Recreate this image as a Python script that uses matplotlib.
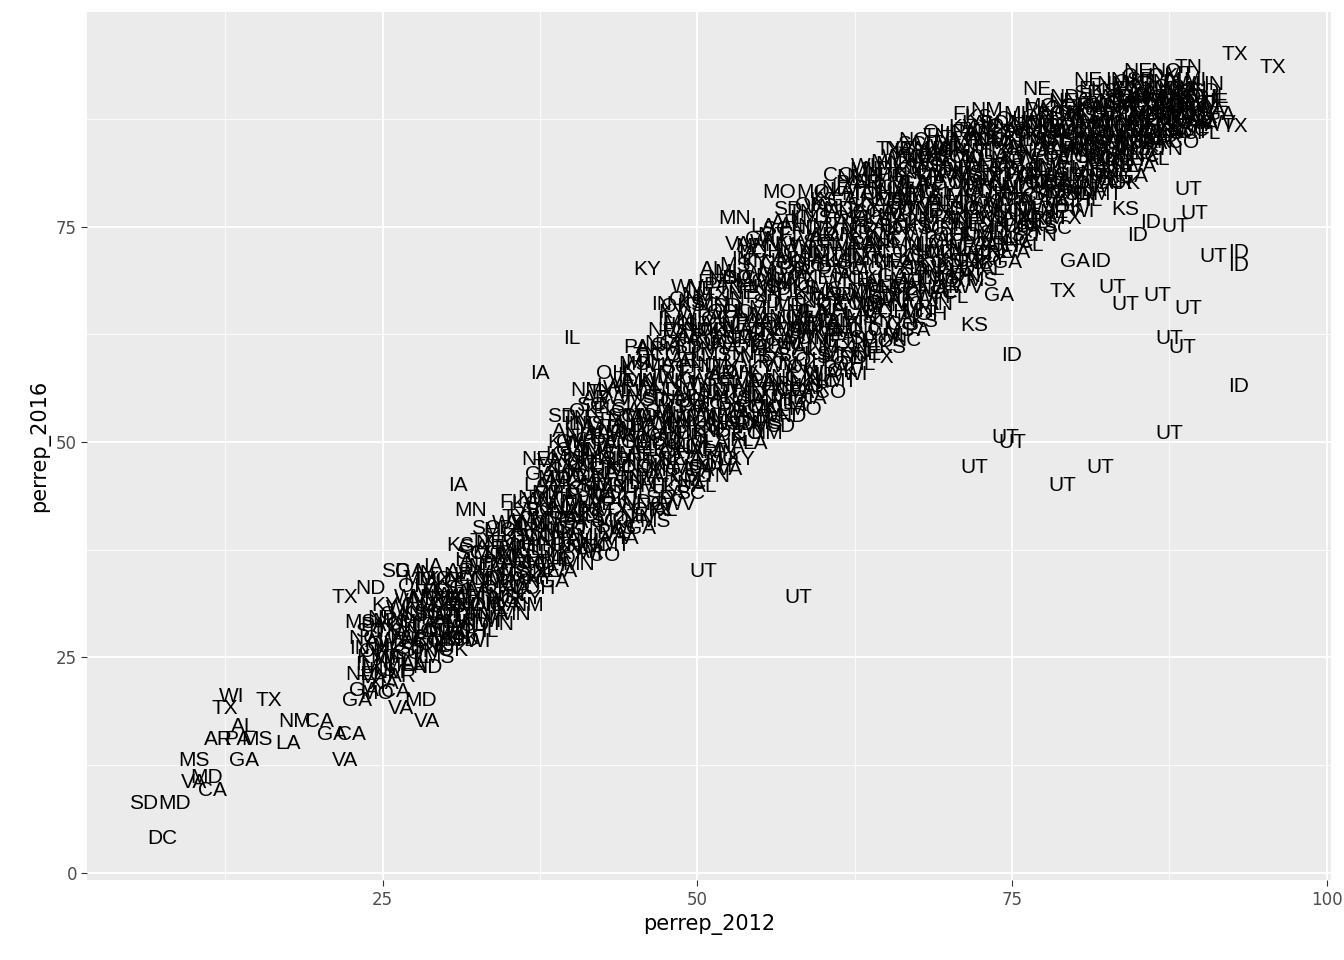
import numpy as np
import matplotlib.pyplot as plt

# outliers / sparse labels
out_lab = ['TX','TX','TX','UT','UT','ID','ID','UT','UT','ID','UT','UT','UT','UT','UT','ID',
           'UT','UT','UT','UT','UT','UT','UT','UT','ID','UT','ID','TX','KS','KS','GA','GA','ID',
           'DC','SD','MD','CA','VA','MD','MS','GA','AR','PA','MS','LA','VA','CA','GA','AL','NM',
           'CA','TX','WI','TX','VA','VA','MD','CA','GA','SD','ND','TX','NM','IA','VA','ID',
           'KY','IA','IL','MO','NE','OH','MN','NE','NE','NE','OK','IA','MN','KS','KS','TX','IL',
           'ID','CO','TX','NM','IL','WI','OH','MS']
out_x = [92.7,95.7,92.7,89.0,89.5,86.0,85.0,88.0,91.0,93.0,83.0,86.5,89.0,84.0,87.5,93.0,
         88.5,87.5,74.5,75.0,72.0,82.0,79.0,50.5,93.0,58.0,75.0,79.0,84.0,72.0,80.0,74.0,82.0,
         7.5,6.0,8.5,11.5,10.0,11.0,10.0,14.0,12.0,13.5,15.0,17.5,22.0,22.5,21.0,14.0,18.0,
         20.0,12.5,13.0,16.0,28.5,26.5,28.0,26.0,23.0,26.0,24.0,22.0,36.5,31.0,35.0,34.0,
         46.0,37.5,40.0,56.5,66.0,40.0,53.0,81.0,77.0,85.0,84.0,31.0,32.0,68.0,60.0,62.0,39.0,
         58.0,54.0,47.0,30.0,42.0,44.0,36.0,45.0]
out_y = [95.0,93.5,86.6,79.3,76.6,75.5,74.0,75.0,71.5,70.5,68.0,67.0,65.5,66.0,62.0,56.5,
         61.0,51.0,50.5,50.0,47.0,47.0,45.0,35.0,72.0,32.0,60.0,67.5,77.0,63.5,71.0,67.0,71.0,
         4.0,8.0,8.0,9.5,10.5,11.0,13.0,13.0,15.5,15.5,15.5,15.0,13.0,16.0,16.0,17.0,17.5,
         17.5,19.0,20.5,20.0,17.5,19.0,20.0,21.0,20.0,35.0,33.0,32.0,31.0,32.0,31.0,31.0,
         70.0,58.0,62.0,79.0,84.0,50.0,76.0,92.0,91.0,93.0,80.0,45.0,42.0,64.0,63.0,60.0,39.5,
         55.0,51.0,42.0,27.0,44.0,40.0,38.0,59.0]

# dense band: columns of x with their y values
band_x = [24, 26, 28, 30, 32, 34, 36, 38, 40, 42, 44, 46, 48, 50, 52, 54, 56, 58, 60, 62,
          64, 66, 68, 70, 72, 74, 76, 78, 80, 82, 84, 86, 88, 90]
band_y = [[22, 25, 28], [24, 27, 30], [25, 28, 31, 34], [27, 29, 31, 33], [28, 31, 34, 37],
          [30, 33, 36, 39], [33, 36, 39, 42], [35, 38, 41, 44, 47], [37, 40, 43, 46, 49, 52],
          [38, 42, 45, 48, 51, 55], [40, 44, 47, 50, 53, 57], [42, 46, 49, 52, 56, 60],
          [44, 48, 51, 54, 58, 62, 65], [46, 50, 53, 56, 60, 63, 67], [48, 52, 55, 58, 62, 65, 69],
          [51, 54, 57, 61, 64, 68, 72], [53, 56, 60, 63, 67, 70, 74], [55, 58, 62, 65, 69, 72, 76],
          [57, 61, 64, 67, 71, 74, 78], [59, 63, 66, 70, 73, 76, 80], [61, 65, 68, 72, 75, 78, 81],
          [63, 67, 70, 74, 77, 80, 83], [66, 69, 72, 76, 79, 82, 84], [68, 71, 74, 77, 80, 83, 85],
          [70, 73, 76, 79, 82, 85, 87], [72, 75, 78, 81, 84, 86], [74, 77, 80, 82, 85, 87],
          [76, 79, 81, 84, 86, 88], [78, 80, 83, 85, 87, 89], [80, 82, 84, 86, 88, 90],
          [82, 84, 86, 88, 90, 91], [84, 86, 88, 89, 91], [86, 87, 89, 90, 92], [87, 88, 90]]
states = ['TX','KS','NE','MO','IA','GA','VA','KY','OH','IN','MN','WI','IL','OK','SD','ND',
          'MS','AL','TN','NC','PA','MI','CO','MT','AR','LA','NM','FL','WV','SC']
# small jitter pattern of overlapping county labels around each band point
offsets = [(0, 0), (1, 1.5), (-0.8, 1), (0.6, -1.2), (1.5, 0), (-0.5, -0.8), (0.3, 0.7)]

fig, ax = plt.subplots(figsize=(13.44, 9.6), dpi=100)
ax.set_facecolor('#EBEBEB')

txt = dict(ha='center', va='center', fontsize=15, color='black', family='Liberation Sans')
k = 0
for i, xc in enumerate(band_x):
    for yv in band_y[i]:
        for dx, dy in offsets:
            ax.text(xc + dx, yv + dy, states[k % len(states)], **txt)
            k += 1
for s, xv, yv in zip(out_lab, out_x, out_y):
    ax.text(xv, yv, s, **txt)

ax.set_xlim(1.55, 100.3)
ax.set_ylim(-0.9, 100)
ax.set_xticks([25, 50, 75, 100])
ax.set_yticks([0, 25, 50, 75])
ax.set_xticks([12.5, 37.5, 62.5, 87.5], minor=True)
ax.set_yticks([12.5, 37.5, 62.5, 87.5], minor=True)
ax.grid(which='major', color='white', linewidth=1.3)
ax.grid(which='minor', color='white', linewidth=0.6)
ax.set_axisbelow(True)
for sp in ax.spines.values():
    sp.set_visible(False)
ax.tick_params(which='major', colors='#333333', labelcolor='#4D4D4D', labelsize=12, length=4)
ax.tick_params(which='minor', length=0)
ax.set_xlabel('perrep_2012', fontsize=15)
ax.set_ylabel('perrep_2016', fontsize=15)
plt.subplots_adjust(left=0.065, right=0.99, top=0.988, bottom=0.083)
fig.savefig('out.png')
